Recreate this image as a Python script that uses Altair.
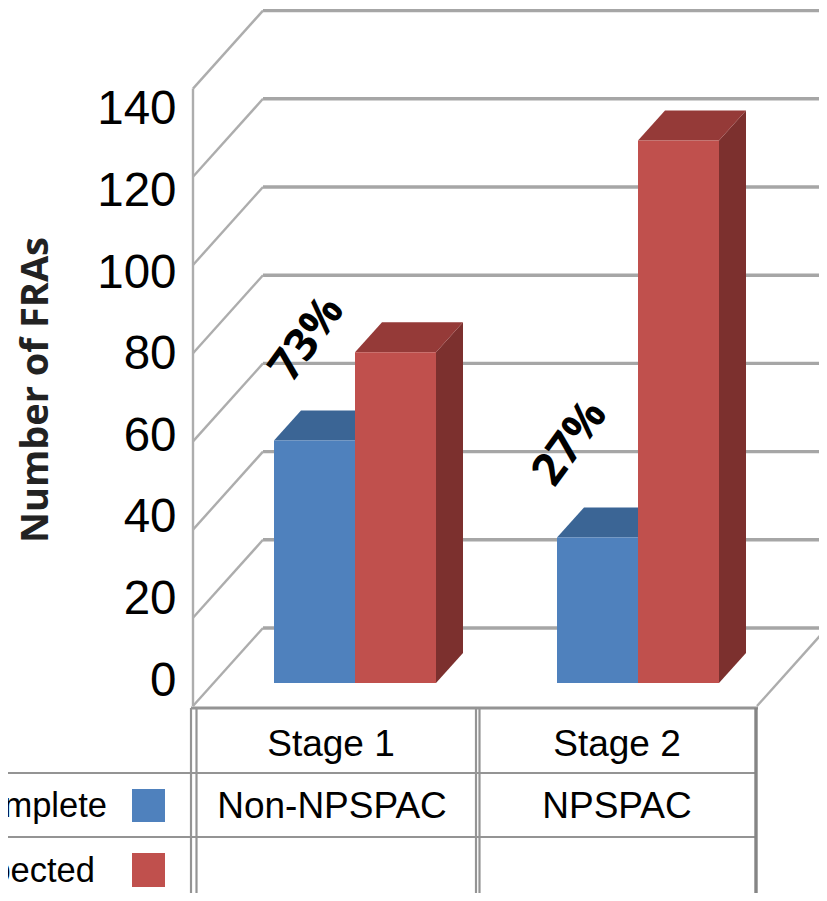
import altair as alt
import pandas as pd

# ---- values
stages = ["Stage 1", "Stage 2"]
groups = ["Non-NPSPAC", "NPSPAC"]
series = ["Complete", "Expected"]
complete = [55, 33]
expected = [75, 123]
pct_labels = ["73%", "27%"]
axis_ticks = [0, 20, 40, 60, 80, 100, 120, 140]
axis_title = "Number of FRAs"

# ---- layout of the drawing (page pixels)
W, H = 811, 885
PX0, PY0 = 8, 8
Y0, K = 683.0, 4.41          # bar/wall value scale


def val(py):
    return (Y0 - py) / K


x_scale = alt.Scale(domain=[PX0, PX0 + W], range=[0, W], nice=False, zero=False, clamp=False)
y_scale = alt.Scale(domain=[val(PY0 + H), val(PY0)], range=[H, 0], nice=False, zero=False)
X = lambda f: alt.X(f, type="quantitative", scale=x_scale, axis=None, title=None)
Y = lambda f: alt.Y(f, type="quantitative", scale=y_scale, axis=None, title=None)
COLORS = {"Complete": "#4f81bd", "Expected": "#c0504d"}
TOPS = {"Complete": "#3b6595", "Expected": "#953a38"}
SIDES = {"Complete": "#335a88", "Expected": "#7c302e"}
color_enc = lambda field, m: alt.Color(field, type="nominal", legend=None,
                                       scale=alt.Scale(domain=series, range=[m[s] for s in series]))


def rules(segs, color, width):
    df = pd.DataFrame(segs, columns=["x", "py", "x2", "py2"])
    df["y"] = df["py"].map(val)
    df["ye"] = df["py2"].map(val)
    return alt.Chart(df).mark_rule(color=color, strokeWidth=width).encode(
        x=X("x"), y=Y("y"), x2=alt.X2("x2"), y2=alt.Y2("ye"))


# ---- walls and floor
WX0, WX1, WBACK, RISE = 193, 263, 628, 78
back = []
left = []
for t in axis_ticks:
    by = WBACK - t * K
    back.append((WX1, by, 827, by))
    left.append((WX0, by + RISE, WX1, by))
walls = [
    rules(back, "#a6a6a6", 3.4),
    rules(left, "#adadad", 2.4),
    rules([(WX0, WBACK + RISE - 617.4, WX0, WBACK + RISE)], "#adadad", 2.4),
    rules([(757, 706, 827, 628)], "#adadad", 2.4),
]

# ---- 3-D bars
BAR_W, DX, DY = 81, 27, 30
bar_x = {("Stage 1", "Complete"): 274, ("Stage 1", "Expected"): 355,
         ("Stage 2", "Complete"): 557, ("Stage 2", "Expected"): 638}
rows = []
for i, st in enumerate(stages):
    for s, vals in zip(series, [complete, expected]):
        rows.append({"stage": st, "series": s, "value": vals[i], "x": bar_x[(st, s)]})
bars = pd.DataFrame(rows)
bars["xr"] = bars["x"] + BAR_W

depth = DY / K
side_rows, top_rows = [], []
for _, r in bars.iterrows():
    key = r["stage"] + r["series"]
    side_rows += [
        {"k": key, "series": r["series"], "x": r["xr"], "top": r["value"], "bot": 0},
        {"k": key, "series": r["series"], "x": r["xr"] + DX, "top": r["value"] + depth, "bot": depth},
    ]
    top_rows += [
        {"k": key, "series": r["series"], "y": r["value"], "xa": r["x"], "xb": r["xr"]},
        {"k": key, "series": r["series"], "y": r["value"] + depth, "xa": r["x"] + DX, "xb": r["xr"] + DX},
    ]
side = alt.Chart(pd.DataFrame(side_rows)).mark_area(orient="vertical", opacity=1).encode(
    x=X("x"), y=Y("top"), y2=alt.Y2("bot"), detail="k:N", color=color_enc("series", SIDES))
top = alt.Chart(pd.DataFrame(top_rows)).mark_area(orient="horizontal", opacity=1).encode(
    y=Y("y"), x=X("xa"), x2=alt.X2("xb"), detail="k:N", color=color_enc("series", TOPS))
front = alt.Chart(bars).mark_rect().encode(
    x=X("x"), x2=alt.X2("xr"), y=Y("value"), y2=alt.datum(0), color=color_enc("series", COLORS))

# ---- data table under the plot
T_LEFT, T_MID, T_RIGHT = 192, 477, 756
R0, R1, R2, R3 = 708, 773, 837, 901
table = [
    rules([(PX0, R1, T_RIGHT, R1), (PX0, R2, T_RIGHT, R2)], "#949494", 2.2),
    rules([(191, R0, T_RIGHT + 2, R0)], "#949494", 3.2),
    rules([(x, R0, x, R3) for x in (191, 196.5, 476, 479.5)], "#949494", 2.2),
    rules([(T_RIGHT, R0, T_RIGHT, R3)], "#858585", 3.4),
]


def texts(df, **kw):
    df = df.copy()
    df["y"] = df["py"].map(val)
    return alt.Chart(df).mark_text(**kw).encode(x=X("x"), y=Y("y"), text="t:N")


FONT = "Liberation Sans"
cell_text = texts(pd.DataFrame({
    "t": stages + groups,
    "x": [331, 617, 332, 617],
    "py": [745, 745, 807, 807],
}), font=FONT, fontSize=37, color="#000", baseline="middle", align="center")

legend_text = texts(pd.DataFrame({
    "t": series, "x": [107, 95], "py": [807, 872],
}), font=FONT, fontSize=34.5, color="#000", baseline="middle", align="right")

swatch_df = pd.DataFrame({"series": series, "x": [132, 132], "xe": [165, 165],
                          "py": [789, 853], "pe": [822, 887]})
swatch_df["y"] = swatch_df["py"].map(val)
swatch_df["ye"] = swatch_df["pe"].map(val)
swatches = alt.Chart(swatch_df).mark_rect().encode(
    x=X("x"), x2=alt.X2("xe"), y=Y("y"), y2=alt.Y2("ye"), color=color_enc("series", COLORS))

pct = texts(pd.DataFrame({"t": pct_labels, "x": [307, 570], "py": [339, 443]}),
            font="Open Sans", fontWeight="bold", fontSize=45, angle=306,
            color="#000", baseline="middle", align="center")

title = texts(pd.DataFrame({"t": [axis_title], "x": [37], "py": [390]}),
              font="Open Sans", fontWeight="bold", fontSize=38, angle=270,
              color="#222", baseline="middle", align="center")

# ---- value axis (its labels sit on their own, tighter spacing)
L0, LK = 681.0, 4.08
label_scale = alt.Scale(domain=[(L0 - (PY0 + H)) / LK, (L0 - PY0) / LK], range=[H, 0],
                        nice=False, zero=False)
axis_layer = alt.Chart(pd.DataFrame({"tick": axis_ticks})).mark_point(opacity=0).encode(
    y=alt.Y("tick:Q", scale=label_scale,
            axis=alt.Axis(orient="left", values=axis_ticks, offset=-(176 - PX0), domain=False,
                          ticks=False, grid=False, labelPadding=0, labelFontSize=47.5,
                          labelFont=FONT, labelColor="#000", title=None, labelFlush=False,
                          labelOverlap=False, labelBound=False)))

chart = alt.layer(
    *walls, side, top, front, *table, cell_text, legend_text, swatches, pct, title, axis_layer
).resolve_scale(y="independent", color="independent").properties(
    width=W, height=H, padding=0, background="white",
    autosize=alt.AutoSizeParams(type="none"),
).configure_view(stroke=None)

chart.save("out.html", embed_options={"renderer": "svg", "actions": False})
